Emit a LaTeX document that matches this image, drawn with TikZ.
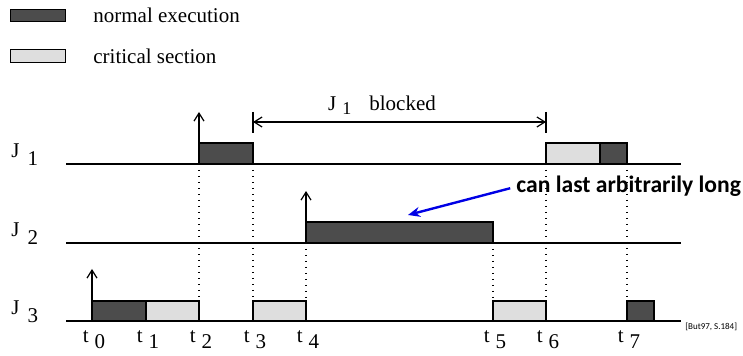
\documentclass[tikz,border=0pt]{standalone}
\usepackage{fontspec}
\setmainfont{Liberation Serif}
\newfontfamily\calibri{Carlito}
\usetikzlibrary{arrows.meta}

\newcommand{\joblabel}[1]{J\hspace{4pt}\raisebox{-4pt}{#1}}
\newcommand{\instant}[1]{t\hspace{3pt}\raisebox{-3pt}{#1}}

\begin{document}
\begin{tikzpicture}[
  x=0.5pt, y=-0.5pt,
  every node/.style={font=\fontsize{10.5}{12}\selectfont, inner sep=0pt},
  axis/.style={line width=0.7pt},
  exec/.style={draw, line width=0.7pt, fill=black!70},
  crit/.style={draw, line width=0.7pt, fill=black!13},
  release/.style={line width=0.6pt, -{Straight Barb[length=4pt, width=5pt]}},
  sync/.style={line width=0.7pt, dash pattern=on 0.7pt off 2.3pt},
  callout/.style={font=\calibri\bfseries\fontsize{11.8}{14}\selectfont, text=black},
  pointer/.style={draw=blue!90!black, line width=1.2pt, -{Stealth[length=6pt, width=5pt]}},
]
  \useasboundingbox (0,0) rectangle (743,356);

  % legend
  \node[exec, minimum width=27.5pt, minimum height=6pt, anchor=south west] (normalkey) at (10,22) {};
  \node[anchor=base west] (normaltext) at (93,23) {normal execution};
  \node[crit, minimum width=27.5pt, minimum height=6.5pt, anchor=south west] (critkey) at (10,63) {};
  \node[anchor=base west] (crittext) at (93,64) {critical section};

  % time instants on the lowest axis
  \foreach \name/\x in {t0/92, t1/146, t2/199, t3/253, t4/306, t5/493, t6/546, t7/627}
    \coordinate (\name) at (\x,321);
  \coordinate (top3) at (0,301);

  % one axis per job
  \foreach \n/\y in {1/164, 2/243, 3/321} {
    \coordinate (s\n) at (66,\y);
    \coordinate (e\n) at (681,\y);
    \draw[axis] (s\n) -- (e\n);
    \node[anchor=base west] (job\n) at (11,\y-6) {\joblabel{\n}};
  }

  % executions
  \draw[exec] (199,143) rectangle (253,164);
  \draw[crit] (546,143) rectangle (600,164);
  \draw[exec] (600,143) rectangle (627,164);
  \draw[exec] (306,222) rectangle (493,243);
  \draw[exec] (92,301) rectangle (146,321);
  \draw[crit] (146,301) rectangle (199,321);
  \draw[crit] (253,301) rectangle (306,321);
  \draw[crit] (493,301) rectangle (546,321);
  \draw[exec] (627,301) rectangle (654,321);

  % arrivals
  \draw[release] (t2 |- s1) -- ++(0,-52);
  \draw[release] (t4 |- s2) -- ++(0,-52);
  \draw[release] (t0) -- ++(0,-52);

  % dotted guides
  \foreach \t/\s in {t2/s1, t3/s1, t4/s2, t5/s2, t6/s1, t7/s1}
    \draw[sync] (\t |- \s) -- (\t |- top3);

  % blocking interval of J1
  \coordinate (bl) at (t3 |- 0,122);
  \coordinate (br) at (t6 |- 0,122);
  \draw[line width=0.6pt] (t3 |- 0,112) -- (t3 |- 0,133);
  \draw[line width=0.6pt] (t6 |- 0,112) -- (t6 |- 0,133);
  \draw[line width=0.6pt, {Straight Barb[length=4pt, width=5pt]}-{Straight Barb[length=4pt, width=5pt]}] (bl) -- (br);
  \node[anchor=base] (blocked) at (382,111) {J\hspace{3pt}\raisebox{-2pt}{\small 1}\hspace{9pt}blocked};

  % time labels
  \foreach \i in {0,...,7}
    \path (t\i) ++(2,22) node[anchor=base] (lab\i) {\instant{\i}};

  % remark on J2
  \node[callout, anchor=base west] (note) at (516,193) {can last arbitrarily long};
  \coordinate (longbar) at (408,215);
  \draw[pointer, shorten <=3pt] (note.west) -- (longbar);

  \node[font=\calibri\fontsize{4.5}{5}\selectfont, anchor=base west] (cite) at (685,330) {[But97, S.184]};
\end{tikzpicture}
\end{document}
